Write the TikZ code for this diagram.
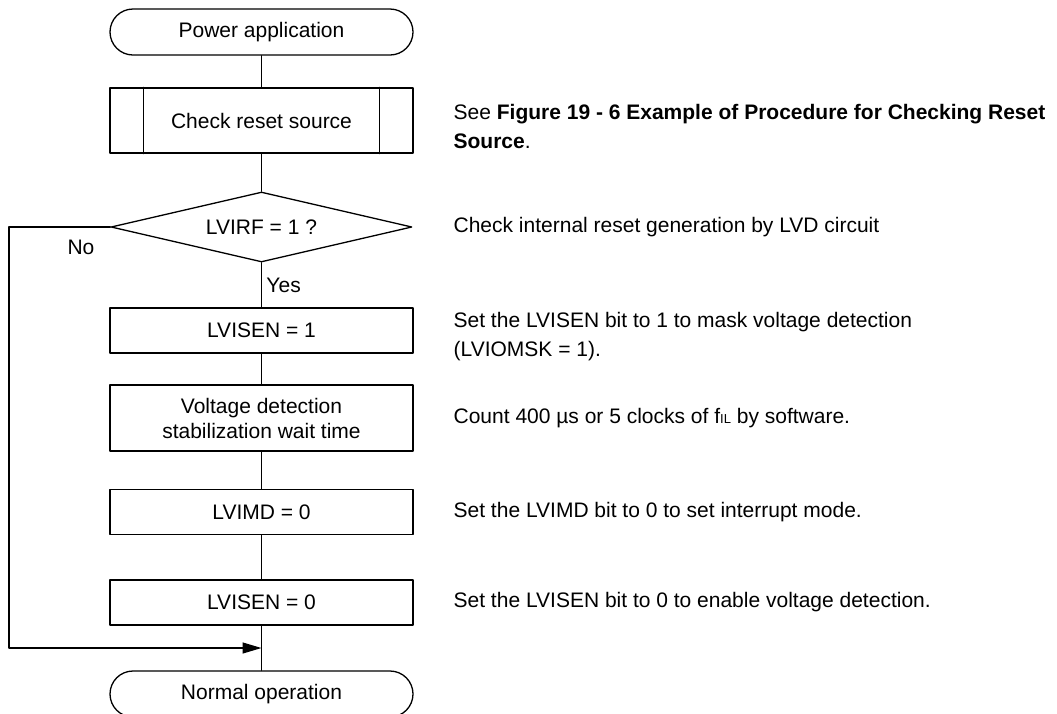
\documentclass[tikz,border=0pt]{standalone}
\usepackage{fontspec}
\setmainfont{Liberation Sans}
\usetikzlibrary{shapes.geometric,arrows.meta}
\tikzstyle{every node}=[font=\fontsize{21}{25}\selectfont]
\tikzstyle{every path}=[line width=1.3pt,line cap=round,line join=round]
\tikzstyle{flowbox}=[draw,rectangle,minimum width=303pt,minimum height=45pt,inner sep=0pt,align=center]
\tikzstyle{terminal}=[flowbox,rounded corners=23pt,minimum height=46pt]
\tikzstyle{decision}=[draw,diamond,aspect=4.3,minimum width=301pt,minimum height=70pt,inner sep=0pt]
\tikzstyle{note}=[anchor=west,align=left,inner sep=0pt,font=\fontsize{21}{29}\selectfont]

\begin{document}
\begin{tikzpicture}[x=1pt,y=-1pt]
% LVD interrupt mode setting flow
	\newcommand\midx{261.5} %centre line of the flow
	\newcommand\notex{453} %left edge of the notes
	\newcommand\sidew{34} %width of the side strips of the subroutine box
	\useasboundingbox (0,0) rectangle (1057,713);
	\node[terminal] (start) at (\midx,32) {Power application};
	\node[flowbox,minimum height=65pt] (check) at (\midx,120.5) {Check reset source};
	\draw ([xshift=\sidew pt]check.north west) -- ([xshift=\sidew pt]check.south west); %% left strip of the subroutine
	\draw ([xshift=-\sidew pt]check.north east) -- ([xshift=-\sidew pt]check.south east); %% right strip of the subroutine
	\node[decision] (lvirf) at (\midx,227) {LVIRF = 1 ?};
	\node[flowbox] (isenA) at (\midx,330.5) {LVISEN = 1};
	\node[flowbox,minimum height=66pt] (wait) at (\midx,418) {Voltage detection\\stabilization wait time};
	\node[flowbox] (imd) at (\midx,512) {LVIMD = 0};
	\node[flowbox] (isenB) at (\midx,602.5) {LVISEN = 0};
	\node[terminal] (normal) at (\midx,694) {Normal operation};
	\coordinate (loopL) at (9,227); %% loopL is the corner of the No branch
	\coordinate (join) at (\midx,648); %% join is where the No branch meets the main line
	\draw (start) -- (check);
	\draw (check) -- (lvirf);
	\draw (lvirf.south) -- node[right=1pt] (yes) {Yes} (isenA.north);
	\draw (isenA) -- (wait);
	\draw (wait) -- (imd);
	\draw (imd) -- (isenB);
	\draw (isenB) -- (normal);
	\draw [-{Triangle[length=19pt,width=11pt]}] (lvirf.west) -- node[pos=0.29,below=9pt] (no) {No} (loopL) |- (join);
	\node[note] (noteA) at (\notex,126) {See \textbf{Figure 19 - 6 Example of Procedure for Checking Reset}\\\textbf{Source}.};
	\node[note] (noteB) at (\notex,227) {Check internal reset generation by LVD circuit};
	\node[note] (noteC) at (\notex,337) {Set the LVISEN bit to 1 to mask voltage detection\\(LVIOMSK = 1).};
	\node[note] (noteD) at (\notex,418) {Count 400 µs or 5 clocks of f{\fontsize{13}{13}\selectfont IL} by software.};
	\node[note] (noteE) at (\notex,512) {Set the LVIMD bit to 0 to set interrupt mode.};
	\node[note] (noteF) at (\notex,602.5) {Set the LVISEN bit to 0 to enable voltage detection.};
\end{tikzpicture}
\end{document}
